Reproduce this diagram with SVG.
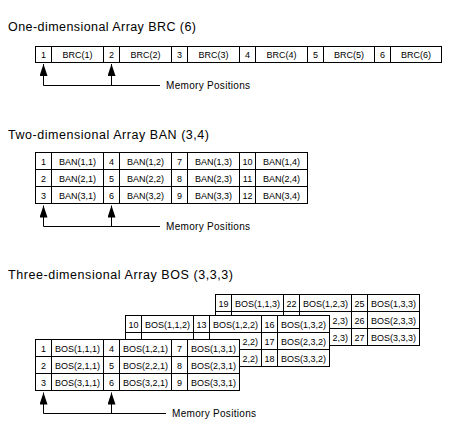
<svg xmlns="http://www.w3.org/2000/svg" width="470" height="430" viewBox="0 0 470 430">
<style>
.c{fill:#fff;stroke:#000;stroke-width:1}
.t{font-family:"Liberation Sans",Arial,sans-serif;font-size:9px;text-anchor:middle;fill:#000}
.f{font-family:"Liberation Sans",Arial,sans-serif;font-size:9px;text-anchor:end;fill:#000}
.ti{font-family:"Liberation Sans",Arial,sans-serif;font-size:12.5px;fill:#000}
.mp{font-family:"Liberation Sans",Arial,sans-serif;font-size:10px;fill:#000}
.ln{fill:none;stroke:#000;stroke-width:1}
</style>
<defs>
<marker id="ah" markerUnits="userSpaceOnUse" markerWidth="12" markerHeight="8" viewBox="0 0 12 8" refX="12" refY="4" orient="auto-start-reverse">
<path d="M0,0 L12,4 L0,8 z" fill="#000"/>
</marker>
</defs>
<rect width="470" height="430" fill="#fff"/>

<text class="ti" x="8" y="31" textLength="188" lengthAdjust="spacing">One-dimensional Array BRC (6)</text>
<text class="ti" x="8" y="139" textLength="201" lengthAdjust="spacing">Two-dimensional Array BAN (3,4)</text>
<text class="ti" x="8" y="279" textLength="225" lengthAdjust="spacing">Three-dimensional Array BOS (3,3,3)</text>

<g id="brc">
<rect class="c" x="35.5" y="46.5" width="16" height="16"/><text class="t" x="43.5" y="57.5">1</text>
<rect class="c" x="51.5" y="46.5" width="52" height="16"/><text class="t" x="77.5" y="57.5">BRC(1)</text>
<rect class="c" x="103.5" y="46.5" width="16" height="16"/><text class="t" x="111.5" y="57.5">2</text>
<rect class="c" x="119.5" y="46.5" width="52" height="16"/><text class="t" x="145.5" y="57.5">BRC(2)</text>
<rect class="c" x="171.5" y="46.5" width="16" height="16"/><text class="t" x="179.5" y="57.5">3</text>
<rect class="c" x="187.5" y="46.5" width="52" height="16"/><text class="t" x="213.5" y="57.5">BRC(3)</text>
<rect class="c" x="239.5" y="46.5" width="16" height="16"/><text class="t" x="247.5" y="57.5">4</text>
<rect class="c" x="255.5" y="46.5" width="52" height="16"/><text class="t" x="281.5" y="57.5">BRC(4)</text>
<rect class="c" x="307.5" y="46.5" width="16" height="16"/><text class="t" x="315.5" y="57.5">5</text>
<rect class="c" x="323.5" y="46.5" width="51" height="16"/><text class="t" x="349" y="57.5">BRC(5)</text>
<rect class="c" x="374.5" y="46.5" width="16" height="16"/><text class="t" x="382.5" y="57.5">6</text>
<rect class="c" x="390.5" y="46.5" width="51" height="16"/><text class="t" x="416" y="57.5">BRC(6)</text>
</g>

<g id="ban">
<rect class="c" x="35.5" y="152.5" width="16" height="17"/><text class="t" x="43.5" y="164.5">1</text>
<rect class="c" x="51.5" y="152.5" width="52" height="17"/><text class="t" x="77.5" y="164.5">BAN(1,1)</text>
<rect class="c" x="103.5" y="152.5" width="16" height="17"/><text class="t" x="111.5" y="164.5">4</text>
<rect class="c" x="119.5" y="152.5" width="52" height="17"/><text class="t" x="145.5" y="164.5">BAN(1,2)</text>
<rect class="c" x="171.5" y="152.5" width="16" height="17"/><text class="t" x="179.5" y="164.5">7</text>
<rect class="c" x="187.5" y="152.5" width="52" height="17"/><text class="t" x="213.5" y="164.5">BAN(1,3)</text>
<rect class="c" x="239.5" y="152.5" width="16" height="17"/><text class="t" x="247.5" y="164.5">10</text>
<rect class="c" x="255.5" y="152.5" width="52" height="17"/><text class="t" x="281.5" y="164.5">BAN(1,4)</text>

<rect class="c" x="35.5" y="169.5" width="16" height="17"/><text class="t" x="43.5" y="181.5">2</text>
<rect class="c" x="51.5" y="169.5" width="52" height="17"/><text class="t" x="77.5" y="181.5">BAN(2,1)</text>
<rect class="c" x="103.5" y="169.5" width="16" height="17"/><text class="t" x="111.5" y="181.5">5</text>
<rect class="c" x="119.5" y="169.5" width="52" height="17"/><text class="t" x="145.5" y="181.5">BAN(2,2)</text>
<rect class="c" x="171.5" y="169.5" width="16" height="17"/><text class="t" x="179.5" y="181.5">8</text>
<rect class="c" x="187.5" y="169.5" width="52" height="17"/><text class="t" x="213.5" y="181.5">BAN(2,3)</text>
<rect class="c" x="239.5" y="169.5" width="16" height="17"/><text class="t" x="247.5" y="181.5">11</text>
<rect class="c" x="255.5" y="169.5" width="52" height="17"/><text class="t" x="281.5" y="181.5">BAN(2,4)</text>

<rect class="c" x="35.5" y="186.5" width="16" height="17"/><text class="t" x="43.5" y="198.5">3</text>
<rect class="c" x="51.5" y="186.5" width="52" height="17"/><text class="t" x="77.5" y="198.5">BAN(3,1)</text>
<rect class="c" x="103.5" y="186.5" width="16" height="17"/><text class="t" x="111.5" y="198.5">6</text>
<rect class="c" x="119.5" y="186.5" width="52" height="17"/><text class="t" x="145.5" y="198.5">BAN(3,2)</text>
<rect class="c" x="171.5" y="186.5" width="16" height="17"/><text class="t" x="179.5" y="198.5">9</text>
<rect class="c" x="187.5" y="186.5" width="52" height="17"/><text class="t" x="213.5" y="198.5">BAN(3,3)</text>
<rect class="c" x="239.5" y="186.5" width="16" height="17"/><text class="t" x="247.5" y="198.5">12</text>
<rect class="c" x="255.5" y="186.5" width="52" height="17"/><text class="t" x="281.5" y="198.5">BAN(3,4)</text>
</g>

<g id="bos-layer3">
<rect class="c" x="215.5" y="294.5" width="16" height="17"/><text class="t" x="223.5" y="306.5">19</text>
<rect class="c" x="231.5" y="294.5" width="52" height="17"/><text class="t" x="257.5" y="306.5">BOS(1,1,3)</text>
<rect class="c" x="283.5" y="294.5" width="16" height="17"/><text class="t" x="291.5" y="306.5">22</text>
<rect class="c" x="299.5" y="294.5" width="52" height="17"/><text class="t" x="325.5" y="306.5">BOS(1,2,3)</text>
<rect class="c" x="351.5" y="294.5" width="16" height="17"/><text class="t" x="359.5" y="306.5">25</text>
<rect class="c" x="367.5" y="294.5" width="52" height="17"/><text class="t" x="393.5" y="306.5">BOS(1,3,3)</text>

<rect class="c" x="215.5" y="311.5" width="16" height="17"/>
<rect class="c" x="231.5" y="311.5" width="52" height="17"/>
<rect class="c" x="283.5" y="311.5" width="16" height="17"/>
<rect class="c" x="299.5" y="311.5" width="52" height="17"/>
<rect class="c" x="351.5" y="311.5" width="16" height="17"/><text class="t" x="359.5" y="323.5">26</text>
<rect class="c" x="367.5" y="311.5" width="52" height="17"/><text class="t" x="393.5" y="323.5">BOS(2,3,3)</text>

<rect class="c" x="215.5" y="328.5" width="16" height="17"/>
<rect class="c" x="231.5" y="328.5" width="52" height="17"/>
<rect class="c" x="283.5" y="328.5" width="16" height="17"/>
<rect class="c" x="299.5" y="328.5" width="52" height="17"/>
<rect class="c" x="351.5" y="328.5" width="16" height="17"/><text class="t" x="359.5" y="340.5">27</text>
<rect class="c" x="367.5" y="328.5" width="52" height="17"/><text class="t" x="393.5" y="340.5">BOS(3,3,3)</text>
</g>

<g id="bos-layer2">
<rect class="c" x="125.5" y="315.5" width="16" height="17"/><text class="t" x="133.5" y="327.5">10</text>
<rect class="c" x="141.5" y="315.5" width="52" height="17"/><text class="t" x="167.5" y="327.5">BOS(1,1,2)</text>
<rect class="c" x="193.5" y="315.5" width="16" height="17"/><text class="t" x="201.5" y="327.5">13</text>
<rect class="c" x="209.5" y="315.5" width="52" height="17"/><text class="t" x="235.5" y="327.5">BOS(1,2,2)</text>
<rect class="c" x="261.5" y="315.5" width="16" height="17"/><text class="t" x="269.5" y="327.5">16</text>
<rect class="c" x="277.5" y="315.5" width="52" height="17"/><text class="t" x="303.5" y="327.5">BOS(1,3,2)</text>

<rect class="c" x="125.5" y="332.5" width="16" height="17"/>
<rect class="c" x="141.5" y="332.5" width="52" height="17"/>
<rect class="c" x="193.5" y="332.5" width="16" height="17"/>
<rect class="c" x="209.5" y="332.5" width="52" height="17"/>
<rect class="c" x="261.5" y="332.5" width="16" height="17"/><text class="t" x="269.5" y="344.5">17</text>
<rect class="c" x="277.5" y="332.5" width="52" height="17"/><text class="t" x="303.5" y="344.5">BOS(2,3,2)</text>

<rect class="c" x="125.5" y="349.5" width="16" height="17"/>
<rect class="c" x="141.5" y="349.5" width="52" height="17"/>
<rect class="c" x="193.5" y="349.5" width="16" height="17"/>
<rect class="c" x="209.5" y="349.5" width="52" height="17"/>
<rect class="c" x="261.5" y="349.5" width="16" height="17"/><text class="t" x="269.5" y="361.5">18</text>
<rect class="c" x="277.5" y="349.5" width="52" height="17"/><text class="t" x="303.5" y="361.5">BOS(3,3,2)</text>
</g>

<g id="fragments">
<text class="f" x="348" y="323.5">2,3)</text>
<text class="f" x="348" y="340.5">2,3)</text>
<text class="f" x="258" y="344.5">2,2)</text>
<text class="f" x="258" y="361.5">2,2)</text>
</g>

<g id="bos-layer1">
<rect class="c" x="35.5" y="339.5" width="16" height="17"/><text class="t" x="43.5" y="351.5">1</text>
<rect class="c" x="51.5" y="339.5" width="52" height="17"/><text class="t" x="77.5" y="351.5">BOS(1,1,1)</text>
<rect class="c" x="103.5" y="339.5" width="16" height="17"/><text class="t" x="111.5" y="351.5">4</text>
<rect class="c" x="119.5" y="339.5" width="52" height="17"/><text class="t" x="145.5" y="351.5">BOS(1,2,1)</text>
<rect class="c" x="171.5" y="339.5" width="16" height="17"/><text class="t" x="179.5" y="351.5">7</text>
<rect class="c" x="187.5" y="339.5" width="52" height="17"/><text class="t" x="213.5" y="351.5">BOS(1,3,1)</text>

<rect class="c" x="35.5" y="356.5" width="16" height="17"/><text class="t" x="43.5" y="368.5">2</text>
<rect class="c" x="51.5" y="356.5" width="52" height="17"/><text class="t" x="77.5" y="368.5">BOS(2,1,1)</text>
<rect class="c" x="103.5" y="356.5" width="16" height="17"/><text class="t" x="111.5" y="368.5">5</text>
<rect class="c" x="119.5" y="356.5" width="52" height="17"/><text class="t" x="145.5" y="368.5">BOS(2,2,1)</text>
<rect class="c" x="171.5" y="356.5" width="16" height="17"/><text class="t" x="179.5" y="368.5">8</text>
<rect class="c" x="187.5" y="356.5" width="52" height="17"/><text class="t" x="213.5" y="368.5">BOS(2,3,1)</text>

<rect class="c" x="35.5" y="373.5" width="16" height="17"/><text class="t" x="43.5" y="385.5">3</text>
<rect class="c" x="51.5" y="373.5" width="52" height="17"/><text class="t" x="77.5" y="385.5">BOS(3,1,1)</text>
<rect class="c" x="103.5" y="373.5" width="16" height="17"/><text class="t" x="111.5" y="385.5">6</text>
<rect class="c" x="119.5" y="373.5" width="52" height="17"/><text class="t" x="145.5" y="385.5">BOS(3,2,1)</text>
<rect class="c" x="171.5" y="373.5" width="16" height="17"/><text class="t" x="179.5" y="385.5">9</text>
<rect class="c" x="187.5" y="373.5" width="52" height="17"/><text class="t" x="213.5" y="385.5">BOS(3,3,1)</text>
</g>

<g id="connectors">
<path class="ln" d="M43.5,64 V85.5 H160" marker-start="url(#ah)"/>
<path class="ln" d="M111.5,64 V85.5" marker-start="url(#ah)"/>
<path class="ln" d="M43.5,205.5 V226.5 H160" marker-start="url(#ah)"/>
<path class="ln" d="M111.5,205.5 V226.5" marker-start="url(#ah)"/>
<path class="ln" d="M43.5,392.5 V413.5 H166" marker-start="url(#ah)"/>
<path class="ln" d="M111.5,392.5 V413.5" marker-start="url(#ah)"/>
</g>

<g id="labels">
<text class="mp" x="166" y="88.5" textLength="84" lengthAdjust="spacing">Memory Positions</text>
<text class="mp" x="166" y="229.5" textLength="84" lengthAdjust="spacing">Memory Positions</text>
<text class="mp" x="172" y="416.5" textLength="84" lengthAdjust="spacing">Memory Positions</text>
</g>
</svg>
